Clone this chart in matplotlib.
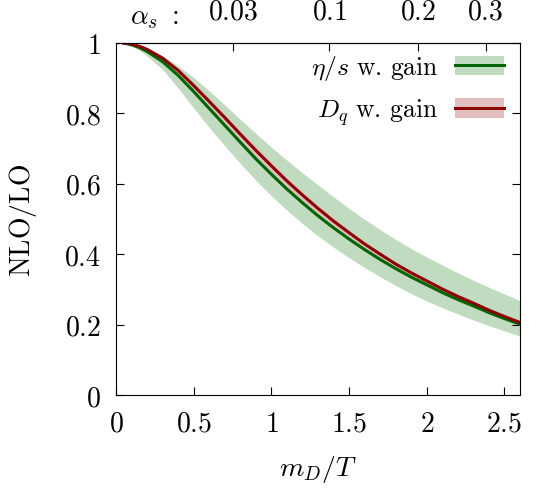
import numpy as np
import matplotlib
matplotlib.use("Agg")
import matplotlib.pyplot as plt
from matplotlib.patches import Patch
from matplotlib.lines import Line2D

plt.rcParams['mathtext.fontset'] = 'cm'
plt.rcParams['font.family'] = 'serif'
plt.rcParams['font.serif'] = ['cmr10', 'DejaVu Serif']
plt.rcParams['axes.formatter.use_mathtext'] = True

# m_D/T grid and NLO/LO ratios
md_over_t = [0.05, 0.1, 0.15, 0.2, 0.3, 0.4, 0.5, 0.6, 0.7, 0.8, 0.9, 1.0,
             1.1, 1.2, 1.3, 1.4, 1.5, 1.6, 1.7, 1.8, 1.9, 2.0,
             2.1, 2.2, 2.3, 2.4, 2.5, 2.6]
eta_s = [1.0, 0.995, 0.987, 0.976, 0.947, 0.908, 0.862, 0.814, 0.766, 0.718, 0.671, 0.627,
         0.585, 0.546, 0.509, 0.475, 0.443, 0.413, 0.385, 0.359, 0.335, 0.313,
         0.291, 0.271, 0.253, 0.234, 0.217, 0.201]
eta_s_lo = [1.0, 0.992, 0.980, 0.963, 0.925, 0.872, 0.815, 0.760, 0.708, 0.658, 0.610, 0.566,
            0.525, 0.487, 0.452, 0.420, 0.390, 0.362, 0.336, 0.311, 0.288, 0.267,
            0.248, 0.230, 0.213, 0.197, 0.182, 0.168]
eta_s_hi = [1.0, 0.997, 0.992, 0.985, 0.963, 0.935, 0.902, 0.864, 0.824, 0.783, 0.743, 0.704,
            0.667, 0.631, 0.597, 0.563, 0.530, 0.499, 0.470, 0.442, 0.416, 0.392,
            0.369, 0.347, 0.326, 0.306, 0.287, 0.268]
d_q = [1.0, 0.997, 0.991, 0.982, 0.957, 0.922, 0.879, 0.834, 0.788, 0.741, 0.695, 0.651,
       0.608, 0.568, 0.530, 0.494, 0.461, 0.429, 0.400, 0.372, 0.347, 0.324,
       0.301, 0.280, 0.261, 0.241, 0.223, 0.206]
d_q_lo = [1.0, 0.996, 0.988, 0.978, 0.950, 0.912, 0.866, 0.819, 0.772, 0.724, 0.677, 0.633,
          0.591, 0.552, 0.514, 0.480, 0.448, 0.417, 0.389, 0.362, 0.338, 0.316,
          0.294, 0.273, 0.255, 0.236, 0.219, 0.202]
d_q_hi = [1.0, 0.998, 0.993, 0.984, 0.961, 0.928, 0.886, 0.842, 0.797, 0.750, 0.705, 0.661,
          0.617, 0.577, 0.538, 0.502, 0.468, 0.435, 0.406, 0.377, 0.352, 0.328,
          0.305, 0.284, 0.264, 0.244, 0.225, 0.208]

alpha_ticks = [0.03, 0.1, 0.2, 0.3]
alpha_labels = ['0.03', '0.1', '0.2', '0.3']

green = '#006400'
red = '#8b0000'
green_band = '#c0dbc0'
red_band = '#e3bfc0'

fig = plt.figure(figsize=(5.4, 4.89), dpi=100)
ax = fig.add_axes([0.2148, 0.1902, 0.963 - 0.2148, 0.91 - 0.1902])

ax.fill_between(md_over_t, eta_s_lo, eta_s_hi, color=green_band, lw=0)
ax.fill_between(md_over_t, d_q_lo, d_q_hi, color=red_band, lw=0)
ax.plot(md_over_t, eta_s, color=green, lw=2.2)
ax.plot(md_over_t, d_q, color=red, lw=2.2)

ax.set_xlim(0, 2.6)
ax.set_ylim(0, 1)
ax.set_xticks([0, 0.5, 1, 1.5, 2, 2.5])
ax.set_xticklabels(['$0$', '$0.5$', '$1$', '$1.5$', '$2$', '$2.5$'])
ax.set_yticks([0, 0.2, 0.4, 0.6, 0.8, 1])
ax.set_yticklabels(['$0$', '$0.2$', '$0.4$', '$0.6$', '$0.8$', '$1$'])
ax.tick_params(direction='in', length=5.8, width=0.8, labelsize=20, pad=11,
               top=False, right=True)
ax.tick_params(axis='y', pad=11)
for s in ax.spines.values():
    s.set_linewidth(0.8)

ax.set_xlabel(r'$m_D/T$', fontsize=20, labelpad=12)
ax.set_ylabel(r'$\mathrm{NLO/LO}$', fontsize=20, labelpad=18)

# top axis: alpha_s with m_D^2 = 6 pi alpha_s T^2 (N_f = 3)
sec = ax.secondary_xaxis('top', functions=(lambda x: x ** 2 / (6 * np.pi),
                                           lambda a: np.sqrt(np.clip(a, 0, None) * 6 * np.pi)))
sec.set_xticks(alpha_ticks)
sec.set_xticklabels(['$%s$' % l for l in alpha_labels])
sec.tick_params(direction='in', length=5.8, width=0.8, labelsize=20, pad=13)
ax.text(0.25, 1.037, r'$\alpha_s\ :$', transform=ax.get_xaxis_transform(),
        fontsize=20, ha='center', va='bottom')

handles = [(Patch(color=green_band, lw=0), Line2D([], [], color=green, lw=2.2)),
           (Patch(color=red_band, lw=0), Line2D([], [], color=red, lw=2.2))]
labels = [r'$\eta/s\ \mathrm{w.\,gain}$', r'$D_q\ \mathrm{w.\,gain}$']
ax.legend(handles, labels, loc='upper right', frameon=False, fontsize=18.5,
          markerfirst=False, handlelength=1.9, handleheight=0.78,
          labelspacing=0.55, handletextpad=0.65, borderaxespad=0,
          bbox_to_anchor=(0.985, 1.0))

fig.savefig('out.png', dpi=100)
